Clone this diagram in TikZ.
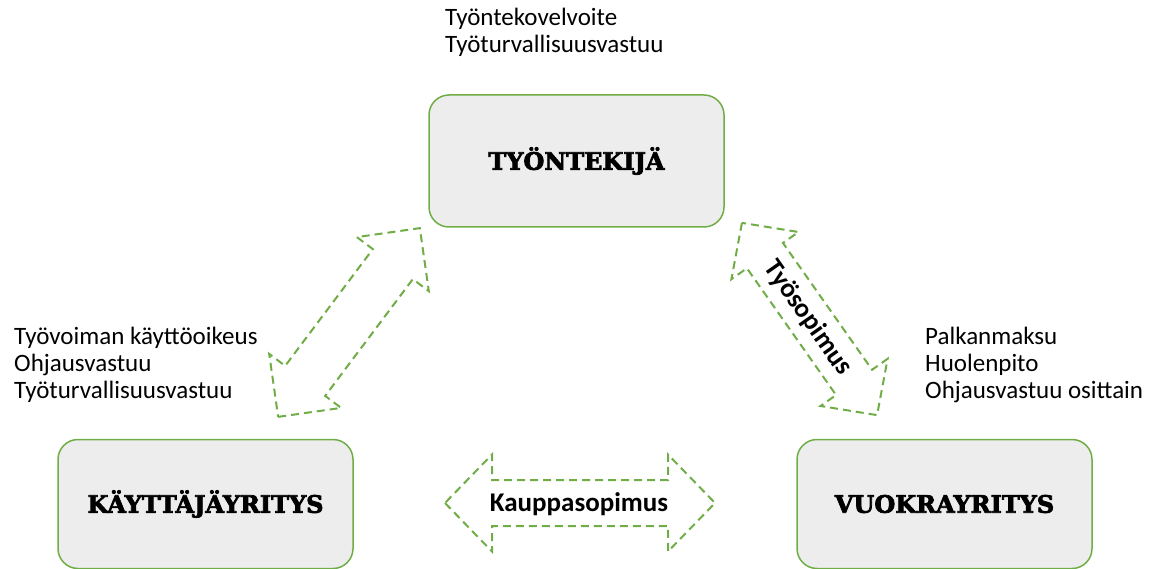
\documentclass[tikz,border=0pt]{standalone}
\usepackage{fontspec}
\setmainfont{Carlito}
\newfontfamily\slab{DejaVu Serif Bold}[FakeBold=3]
\definecolor{grn}{HTML}{70AD47}
\definecolor{boxfill}{HTML}{EDEDED}
\tikzset{
  entity/.style={draw=grn, line width=1.5pt, fill=boxfill, rounded corners=20pt,
    minimum width=295pt, inner sep=0pt, font=\slab\fontsize{24}{27}\selectfont},
  lbl/.style={anchor=north west, inner sep=0pt, align=left,
    font=\fontsize{25}{27}\selectfont},
  arrline/.style={draw=grn, line width=2pt, dash pattern=on 8pt off 5pt},
  arrlabel/.style={inner sep=0pt, font=\bfseries\fontsize{27}{30}\selectfont},
  pics/dbl/.style args={#1/#2/#3/#4}{code={
    \draw[arrline] (-#1,0) -- (-#1+#2,#3) -- (-#1+#2,#4) -- (#1-#2,#4) -- (#1-#2,#3)
      -- (#1,0) -- (#1-#2,-#3) -- (#1-#2,-#4) -- (-#1+#2,-#4) -- (-#1+#2,-#3) -- cycle;
  }}
}
\begin{document}
\begin{tikzpicture}[x=1pt,y=-1pt]
\useasboundingbox (0,0) rectangle (1155,569);
% boxes
\node[entity, minimum height=132pt] (tyontekija) at (576.5,161) {TYÖNTEKIJÄ};
\node[entity, minimum height=129pt] (kayttaja) at (205.5,504) {KÄYTTÄJÄYRITYS};
\node[entity, minimum height=129pt] (vuokra) at (944.5,504) {VUOKRAYRITYS};
% labels
\node[lbl] (ltop) at (445,8) {Työntekovelvoite\\Työturvallisuusvastuu};
\node[lbl] (lleft) at (14,327) {Työvoiman käyttöoikeus\\Ohjausvastuu\\Työturvallisuusvastuu};
\node[lbl] (lright) at (925,327) {Palkanmaksu\\Huolenpito\\Ohjausvastuu osittain};
% arrows
\pic[rotate=53.1] at (349,322.5) {dbl={118/45/45/25}};
\pic[rotate=-54.9] at (809.5,319) {dbl={117.5/40/41/22}};
\pic at (580,503) {dbl={135/47/48.5/23}};
\node[arrlabel] (kauppa) at (579,504) {Kauppasopimus};
\node[arrlabel, rotate=-54.9] (tyosop) at (808,318) {Työsopimus};
\end{tikzpicture}
\end{document}
